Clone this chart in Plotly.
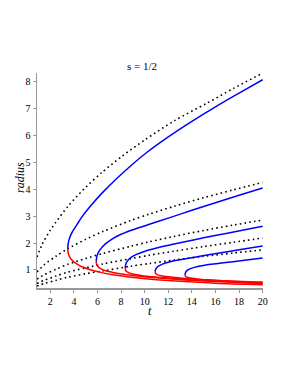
import plotly.graph_objects as go

# ---- data ----
# dotted reference curves
d1_t = [0.87, 1.3, 2.0, 2.42, 3.55, 4.96, 6.37, 8.07, 10.04, 12.5, 15.25, 17.5, 20.0]
d1_r = [1.48, 1.95, 2.48, 2.75, 3.40, 4.06, 4.63, 5.23, 5.85, 6.55, 7.20, 7.75, 8.33]
dn_t = [0.87, 1.5, 2.5, 3.48, 5.0, 6.5, 8.8, 10.4, 12.5, 15.0, 17.5, 20.0]
d2_r = [0.93, 1.20, 1.52, 1.79, 2.14, 2.44, 2.84, 3.08, 3.37, 3.69, 3.98, 4.26]
d3_r = [0.66, 0.83, 1.03, 1.21, 1.43, 1.62, 1.88, 2.05, 2.25, 2.47, 2.67, 2.86]
d4_r = [0.50, 0.62, 0.78, 0.92, 1.08, 1.23, 1.42, 1.55, 1.70, 1.87, 2.03, 2.19]
d5_r = [0.40, 0.50, 0.62, 0.73, 0.86, 0.97, 1.14, 1.24, 1.37, 1.51, 1.63, 1.75]

# blue upper branches
b1_t = [3.48, 3.50, 3.58, 3.72, 3.95, 4.3, 4.8, 5.5, 6.4, 7.5, 8.8, 10.2, 12.0, 14.0, 16.0, 18.0, 20.0]
b1_r = [1.80, 1.94, 2.12, 2.29, 2.48, 2.72, 3.05, 3.43, 3.87, 4.35, 4.87, 5.38, 5.95, 6.53, 7.07, 7.58, 8.08]
b2_t = [5.89, 5.92, 6.0, 6.15, 6.4, 6.8, 7.3, 8.0, 9.0, 10.4, 12.0, 14.0, 16.0, 18.0, 20.0]
b2_r = [1.32, 1.45, 1.58, 1.71, 1.86, 2.02, 2.17, 2.33, 2.50, 2.70, 2.93, 3.22, 3.50, 3.78, 4.05]
b3_t = [8.35, 8.38, 8.46, 8.62, 8.88, 9.3, 9.9, 10.7, 11.8, 13.2, 15.0, 17.0, 20.0]
b3_r = [1.08, 1.18, 1.28, 1.38, 1.48, 1.58, 1.68, 1.78, 1.90, 2.03, 2.20, 2.37, 2.63]
b4_t = [10.88, 10.92, 11.02, 11.2, 11.5, 12.0, 12.7, 13.6, 14.8, 16.2, 18.0, 20.0]
b4_r = [0.94, 1.01, 1.08, 1.15, 1.22, 1.29, 1.36, 1.43, 1.52, 1.62, 1.75, 1.89]
b5_t = [13.42, 13.45, 13.53, 13.7, 14.0, 14.5, 15.2, 16.2, 17.5, 18.8, 20.0]
b5_r = [0.82, 0.89, 0.95, 1.01, 1.07, 1.13, 1.19, 1.24, 1.31, 1.38, 1.45]

# red lower branches
r1_t = [3.48, 3.52, 3.65, 3.9, 4.3, 4.8, 5.4, 6.2, 7.2, 8.5, 10.5, 13.0, 16.0, 20.0]
r1_r = [1.80, 1.62, 1.48, 1.34, 1.21, 1.10, 1.01, 0.92, 0.83, 0.75, 0.66, 0.58, 0.51, 0.45]
r2_t = [5.89, 5.93, 6.05, 6.3, 6.7, 7.3, 8.2, 9.5, 11.0, 13.5, 16.5, 20.0]
r2_r = [1.32, 1.20, 1.12, 1.04, 0.97, 0.91, 0.84, 0.77, 0.71, 0.63, 0.56, 0.49]
r3_t = [8.35, 8.4, 8.55, 8.8, 9.2, 9.8, 10.7, 12.0, 14.0, 16.5, 20.0]
r3_r = [1.08, 0.98, 0.92, 0.87, 0.83, 0.79, 0.75, 0.70, 0.64, 0.58, 0.51]
r4_t = [10.88, 10.93, 11.1, 11.5, 12.2, 13.2, 14.5, 16.5, 18.3, 20.0]
r4_r = [0.94, 0.87, 0.82, 0.78, 0.74, 0.69, 0.65, 0.60, 0.56, 0.53]
r5_t = [13.42, 13.47, 13.65, 14.0, 14.6, 15.5, 16.7, 18.2, 20.0]
r5_r = [0.82, 0.76, 0.72, 0.69, 0.66, 0.63, 0.60, 0.57, 0.55]

x_ticks = [2, 4, 6, 8, 10, 12, 14, 16, 18, 20]
y_ticks = [1, 2, 3, 4, 5, 6, 7, 8]

SERIF = "Liberation Serif, Times New Roman, serif"

fig = go.Figure()

dotted = [(d1_t, d1_r), (dn_t, d2_r), (dn_t, d3_r), (dn_t, d4_r), (dn_t, d5_r)]
for tt, rr in dotted:
    fig.add_trace(go.Scatter(x=tt, y=rr, mode="lines",
                             line=dict(color="black", width=1.6, dash="1.6px,3.2px",
                                       shape="spline", smoothing=0.8),
                             showlegend=False, hoverinfo="skip"))

for tt, rr in [(r1_t, r1_r), (r2_t, r2_r), (r3_t, r3_r), (r4_t, r4_r), (r5_t, r5_r)]:
    fig.add_trace(go.Scatter(x=tt, y=rr, mode="lines",
                             line=dict(color="#ff0000", width=1.5, shape="spline", smoothing=0.8),
                             showlegend=False, hoverinfo="skip"))

for tt, rr in [(b1_t, b1_r), (b2_t, b2_r), (b3_t, b3_r), (b4_t, b4_r), (b5_t, b5_r)]:
    fig.add_trace(go.Scatter(x=tt, y=rr, mode="lines",
                             line=dict(color="#0000ff", width=1.5, shape="spline", smoothing=0.8),
                             showlegend=False, hoverinfo="skip"))

axis_common = dict(showgrid=False, zeroline=False, showline=True,
                   linecolor="#999999", linewidth=1.5, ticks="outside",
                   ticklen=3, tickwidth=1, tickcolor="#999999",
                   tickfont=dict(family=SERIF, size=10, color="black"),
                   automargin=False)

fig.update_xaxes(range=[0.87, 20.03], tickvals=x_ticks, **axis_common)
fig.update_yaxes(range=[0.33, 8.33], tickvals=y_ticks, ticklabelstandoff=0, **axis_common)

# plot area in pixels
pl, pr, pt, pb = 37, 263, 73, 288
W, H = 289, 374


def paper_xy(x, y):
    return (x - pl) / (pr - pl), (pb - y) / (pb - pt)


tx, ty = paper_xy(141.5, 66)
lx, ly = paper_xy(150, 311)
rx, ry = paper_xy(20, 178)

fig.update_layout(
    width=W, height=H,
    margin=dict(l=pl, r=W - pr, t=pt, b=H - pb, autoexpand=False),
    paper_bgcolor="white", plot_bgcolor="white",
    annotations=[
        dict(text="s = 1/2", x=tx, y=ty, xref="paper", yref="paper",
             showarrow=False, font=dict(family=SERIF, size=11, color="black"),
             xanchor="center", yanchor="middle"),
        dict(text="<i>t</i>", x=lx, y=ly, xref="paper", yref="paper",
             showarrow=False, font=dict(family=SERIF, size=12, color="black"),
             xanchor="center", yanchor="middle"),
        dict(text="<i>radius</i>", x=rx, y=ry, xref="paper", yref="paper",
             showarrow=False, textangle=-90, font=dict(family=SERIF, size=12, color="black"),
             xanchor="center", yanchor="middle"),
    ],
)

fig.write_html("out.html", config={"displayModeBar": False, "staticPlot": True},
               post_script="document.body.style.margin='0';")
